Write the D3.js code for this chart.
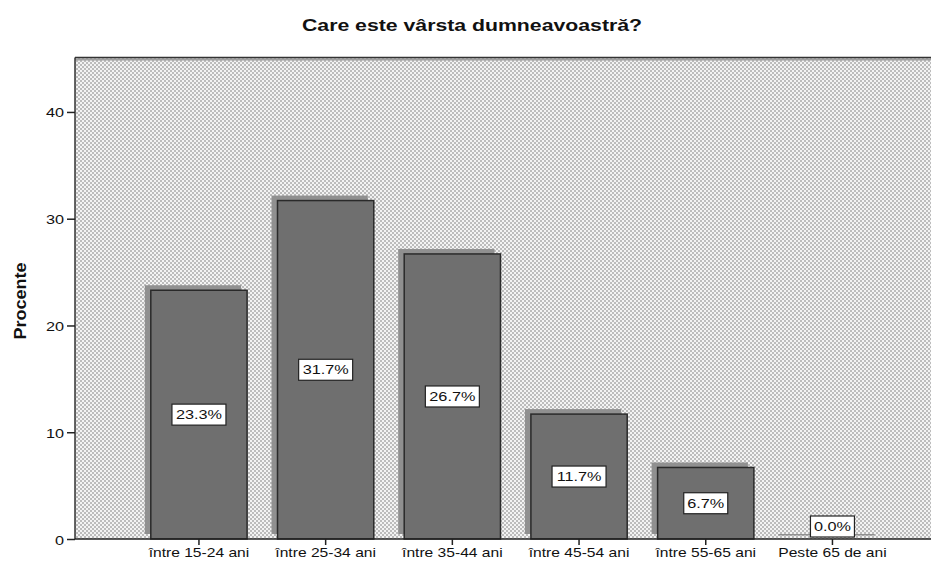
<!DOCTYPE html>
<html>
<head>
<meta charset="utf-8">
<script src="https://cdn.jsdelivr.net/npm/d3@7"></script>
<style>
  body { margin: 0; background: #fff; }
  text { font-family: "Liberation Sans", Arial, sans-serif; fill: #111; }
</style>
</head>
<body>
<svg width="931" height="563"></svg>
<script>
'use strict';

// data
const categories = ["între 15-24 ani", "între 25-34 ani", "între 35-44 ani",
                    "între 45-54 ani", "între 55-65 ani", "Peste 65 de ani"];
const procente = [23.3, 31.7, 26.7, 11.7, 6.7, 0.0];
const yTicks = [0, 10, 20, 30, 40];
const titlu = "Care este vârsta dumneavoastră?";
const yTitlu = "Procente";

let svg = d3.select("svg"),
    width = +svg.attr("width"),
    height = +svg.attr("height");

// original picture is stretched horizontally a bit
const sx = 1.25;
let plot = {left: 75, top: 57.5, right: 931, bottom: 539};

let defs = svg.append("defs");
let pat = defs.append("pattern")
    .attr("id", "dots")
    .attr("patternUnits", "userSpaceOnUse")
    .attr("width", 4).attr("height", 4);
pat.append("rect").attr("width", 4).attr("height", 4).attr("fill", "#f3f3f3");
pat.append("rect").attr("width", 2).attr("height", 2).attr("fill", "#bcbcbc");
pat.append("rect").attr("x", 2).attr("y", 2).attr("width", 2).attr("height", 2).attr("fill", "#bcbcbc");

let blur = defs.append("filter").attr("id", "soft")
    .attr("x", "-10%").attr("y", "-10%").attr("width", "120%").attr("height", "120%");
blur.append("feGaussianBlur").attr("stdDeviation", 0.7);

let x = d3.scaleBand()
    .domain(categories)
    .range([135.6, 895.8])
    .paddingInner(0.24)
    .paddingOuter(0.12);

let y = d3.scaleLinear()
    .domain([0, 45.1])
    .range([plot.bottom, plot.top]);

// plot background
svg.append("rect")
    .attr("x", plot.left).attr("y", plot.top)
    .attr("width", plot.right - plot.left)
    .attr("height", plot.bottom - plot.top)
    .attr("fill", "url(#dots)");

// frame: top + left
svg.append("line")
    .attr("x1", plot.left).attr("x2", plot.right)
    .attr("y1", plot.top + 2).attr("y2", plot.top + 2)
    .attr("stroke", "#a0a0a0").attr("stroke-width", 2);
svg.append("line")
    .attr("x1", plot.left).attr("x2", plot.right)
    .attr("y1", plot.top).attr("y2", plot.top)
    .attr("stroke", "#333").attr("stroke-width", 1.5);
svg.append("line")
    .attr("x1", plot.left).attr("x2", plot.left)
    .attr("y1", plot.top).attr("y2", plot.bottom)
    .attr("stroke", "#333").attr("stroke-width", 1.5);

let bars = svg.append("g").selectAll("g")
    .data(procente)
    .enter().append("g");

// shadow
bars.append("rect")
    .attr("x", (d, i) => x(categories[i]) - 6)
    .attr("y", d => y(d) - 5)
    .attr("width", x.bandwidth())
    .attr("height", d => Math.max(1.5, plot.bottom - y(d)))
    .attr("fill", "#909090")
    .attr("filter", "url(#soft)");

bars.append("rect")
    .attr("x", (d, i) => x(categories[i]))
    .attr("y", d => y(d))
    .attr("width", x.bandwidth())
    .attr("height", d => plot.bottom - y(d))
    .attr("fill", "#6f6f6f")
    .attr("stroke", "#2a2a2a")
    .attr("stroke-width", 1.5);

// value labels
const boxW = 54, boxH = 21;
bars.each(function(d, i) {
    let g = d3.select(this);
    let cx = x(categories[i]) + x.bandwidth() / 2;
    let cy = Math.min((y(d) + plot.bottom) / 2, plot.bottom - boxH / 2 - 2);
    let w = d < 10 ? boxW - 10 : boxW;
    g.append("rect")
        .attr("x", cx - w / 2).attr("y", cy - boxH / 2)
        .attr("width", w).attr("height", boxH)
        .attr("fill", "#fff")
        .attr("stroke", "#222").attr("stroke-width", 1.2);
    g.append("text")
        .attr("transform", "translate(" + cx + "," + (cy + 4.5) + ") scale(" + sx + ",1)")
        .attr("text-anchor", "middle")
        .style("font-size", "13px")
        .text(d3.format(".1f")(d) + "%");
});

// x axis
let xAxis = svg.append("g")
    .attr("transform", "translate(0," + plot.bottom + ")")
    .call(d3.axisBottom(x).tickSize(6).tickSizeOuter(0));
xAxis.select(".domain").attr("d", "M" + plot.left + ",0H" + plot.right)
    .attr("stroke", "#222").attr("stroke-width", 1.5);
xAxis.selectAll(".tick line").attr("stroke", "#222").attr("stroke-width", 1.5);
xAxis.selectAll(".tick text")
    .attr("y", 0).attr("dy", 0)
    .attr("transform", "translate(0,18) scale(" + sx + ",1)")
    .style("font-size", "12.5px")
    .attr("fill", "#111");

// y axis
let yAxis = svg.append("g")
    .attr("transform", "translate(" + plot.left + ",0)")
    .call(d3.axisLeft(y).tickValues(yTicks).tickSize(8).tickSizeOuter(0));
yAxis.select(".domain").remove();
yAxis.selectAll(".tick line").attr("stroke", "#222").attr("stroke-width", 1.5);
yAxis.selectAll(".tick text")
    .attr("x", 0).attr("dy", 0)
    .attr("transform", "translate(-11,5) scale(" + sx + ",1)")
    .style("font-size", "13px")
    .attr("fill", "#111");

// titles
svg.append("text")
    .attr("transform", "translate(472,31) scale(" + sx + ",1)")
    .attr("text-anchor", "middle")
    .style("font-size", "17px")
    .style("font-weight", "bold")
    .text(titlu);

svg.append("text")
    .attr("transform", "translate(26,301) rotate(-90) scale(1.2,1.15)")
    .attr("text-anchor", "middle")
    .style("font-size", "15px")
    .style("font-weight", "bold")
    .text(yTitlu);
</script>
</body>
</html>
